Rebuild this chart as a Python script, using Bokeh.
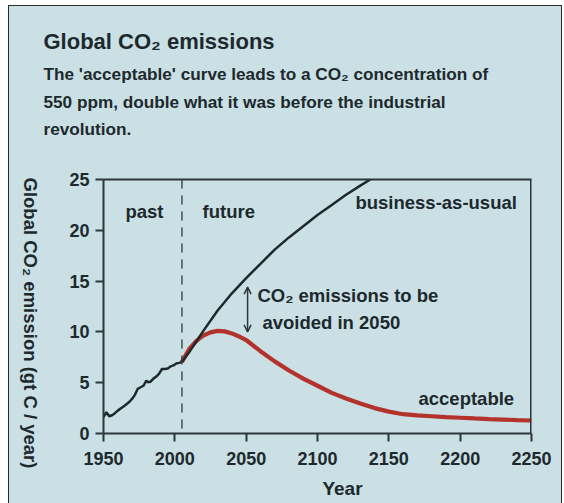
import math
from bokeh.plotting import figure
from bokeh.models import Label, Span, Arrow, OpenHead, FixedTicker, LinearAxis
from bokeh.layouts import column, row
from bokeh.embed import file_html
from bokeh.resources import INLINE

# ---- data ----
past_years = [1950, 1952, 1953, 1954, 1956, 1958, 1960, 1963, 1965, 1968, 1970, 1972,
              1974, 1976, 1978, 1980, 1981, 1983, 1985, 1987, 1989, 1991, 1993, 1995,
              1997, 1999, 2001, 2003, 2005]
past_vals = [1.6, 2.1, 1.9, 1.7, 1.8, 2.0, 2.25, 2.55, 2.75, 3.1, 3.4, 3.8,
             4.4, 4.55, 4.7, 5.2, 5.05, 5.1, 5.4, 5.6, 5.9, 6.35, 6.35, 6.4,
             6.6, 6.7, 6.9, 6.95, 7.05]

bau_years = [2005, 2010, 2020, 2030, 2040, 2050, 2060, 2070, 2080, 2090, 2100,
             2110, 2120, 2130, 2137]
bau_vals = [7.05, 8.0, 10.1, 12.1, 13.8, 15.3, 16.7, 18.1, 19.3, 20.4, 21.5,
            22.5, 23.5, 24.4, 25.0]

acc_years = [2005, 2010, 2015, 2020, 2025, 2030, 2035, 2040, 2045, 2050, 2060,
             2070, 2080, 2090, 2100, 2110, 2120, 2130, 2140, 2150, 2160, 2170,
             2180, 2190, 2200, 2210, 2220, 2230, 2240, 2250]
acc_vals = [7.05, 8.3, 9.1, 9.65, 9.95, 10.1, 10.05, 9.85, 9.55, 9.2, 8.1,
            7.1, 6.2, 5.4, 4.7, 4.0, 3.45, 2.95, 2.5, 2.15, 1.9, 1.78,
            1.7, 1.62, 1.55, 1.48, 1.42, 1.37, 1.32, 1.28]

x_ticks = [1950, 2000, 2050, 2100, 2150, 2200, 2250]
y_ticks = [0, 5, 10, 15, 20, 25]
divider_year = 2005
gap_year = 2051
gap_low, gap_high = 10.0, 14.4

title_text = "Global CO\u2082  emissions"
subtitle_lines = ["The 'acceptable' curve leads to a CO\u2082  concentration of",
                  "550 ppm, double what it was before the industrial",
                  "revolution."]
x_label = "Year"
y_label = "Global CO\u2082 emission (gt C / year)"

BG = "#cae0e5"
INK = "#1d292d"
AX = "#2b373b"
RED = "#b3322b"
FONT = "Liberation Sans"


def blank_panel(w, h):
    f = figure(width=w, height=h, output_backend="svg", toolbar_location=None,
               x_range=(0, w), y_range=(0, h),
               min_border_left=0, min_border_right=0, min_border_top=0,
               min_border_bottom=0)
    f.axis.visible = False
    f.grid.visible = False
    f.outline_line_color = None
    f.background_fill_color = BG
    f.border_fill_color = BG
    try:
        f.frame_align = False
    except Exception:
        pass
    return f


def lab(fig, x, y, text, size, **kw):
    fig.add_layout(Label(x=x, y=y, text=text, text_font=FONT, text_font_style="bold",
                         text_font_size=size, text_color=INK,
                         text_baseline=kw.pop("text_baseline", "alphabetic"), **kw))


# ---- header (title + subtitle) ----
header = blank_panel(552, 150)
lab(header, 34, 115.5, title_text, "22px")
for yy, t in zip([82.5, 54.5, 27.5], subtitle_lines):
    lab(header, 34, yy, t, "17.2px")

# ---- y-axis title panel ----
side = blank_panel(45, 322)
lab(side, 20.5, 155.5, y_label, "18.5px", text_align="center",
    text_baseline="middle", angle=-math.pi / 2)

# ---- footer (x-axis title) ----
footer = blank_panel(552, 25)
lab(footer, 333, 15.5, x_label, "19px", text_align="center")

# ---- main chart ----
p = figure(width=507, height=322, output_backend="svg", toolbar_location=None,
           x_range=(1950, 2250), y_range=(0, 25),
           min_border_left=49, min_border_right=30, min_border_top=23,
           min_border_bottom=45)
p.background_fill_color = BG
p.border_fill_color = BG
p.outline_line_color = None
p.grid.visible = False
try:
    p.frame_align = False
except Exception:
    pass

for ax in (p.xaxis[0], p.yaxis[0]):
    ax.axis_line_color = AX
    ax.axis_line_width = 2
    ax.major_tick_line_color = AX
    ax.major_tick_line_width = 2
    ax.major_tick_out = 8
    ax.major_tick_in = 0
    ax.minor_tick_line_color = None
    ax.major_label_text_font = FONT
    ax.major_label_text_font_style = "bold"
    ax.major_label_text_font_size = "18px"
    ax.major_label_text_color = INK
p.xaxis.ticker = FixedTicker(ticks=x_ticks)
p.yaxis.ticker = FixedTicker(ticks=y_ticks)
p.xaxis.major_label_standoff = 10
p.yaxis.major_label_standoff = 6

# top edge of the box
top_axis = LinearAxis(ticker=FixedTicker(ticks=[]), major_tick_out=0, major_tick_in=0,
                      major_tick_line_color=None, minor_tick_line_color=None,
                      axis_line_color=AX, axis_line_width=2)
p.add_layout(top_axis, "above")

# right edge of the box and past/future divider
p.add_layout(Span(location=2250, dimension="height", line_color=AX, line_width=3))
p.add_layout(Span(location=divider_year, dimension="height", line_color=AX,
                  line_width=1.3, line_dash="9 7"))

p.line(past_years, past_vals, line_color=INK, line_width=2.5)
p.line(acc_years, acc_vals, line_color=RED, line_width=4.2)
p.line(bau_years, bau_vals, line_color=INK, line_width=2.5)

p.add_layout(Arrow(x_start=gap_year, y_start=gap_low, x_end=gap_year, y_end=gap_high,
                   line_color=AX, line_width=1.5,
                   start=OpenHead(size=7, line_color=AX, line_width=1.5),
                   end=OpenHead(size=7, line_color=AX, line_width=1.5)))

lab(p, 1965.4, 21.84, "past", "18.5px")
lab(p, 2019.4, 21.84, "future", "18.5px")
lab(p, 2126.6, 22.74, "business-as-usual", "18.5px")
lab(p, 2057.9, 13.54, "CO\u2082  emissions to be", "18.5px")
lab(p, 2061.4, 10.97, "avoided in 2050", "18.5px")
lab(p, 2170.8, 3.44, "acceptable", "18.5px")

layout = column(header, row(side, p), footer)
layout.styles = {"margin-left": "9px", "margin-top": "6px",
                 "outline": "1.5px solid #2a2a2a", "background-color": BG}

open("out.html", "w").write(file_html(layout, INLINE))
